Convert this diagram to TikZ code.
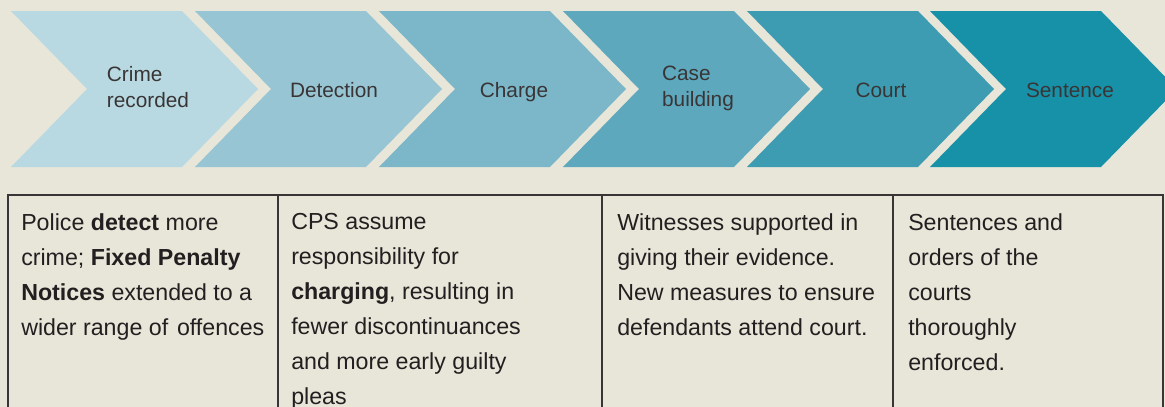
\documentclass[tikz,border=0pt]{standalone}
\usepackage{fontspec}
\setmainfont{Liberation Sans}
\usepackage{tikz}

\definecolor{paper}{HTML}{E8E6D9}
\definecolor{stageA}{HTML}{B8D9E2}
\definecolor{stageB}{HTML}{98C5D3}
\definecolor{stageC}{HTML}{7CB7C9}
\definecolor{stageD}{HTML}{5DA8BD}
\definecolor{stageE}{HTML}{3E9CB2}
\definecolor{stageF}{HTML}{1691A8}
\definecolor{ink}{HTML}{231F20}

\begin{document}
\begin{tikzpicture}[x=0.75pt, y=-0.75pt,
  chevlabel/.style={inner sep=0pt, align=left, text=ink!90,
    font=\fontsize{15.6}{19.5}\selectfont},
  celltext/.style={inner sep=0pt, anchor=north west, align=left, text=ink,
    font=\fontsize{17.4}{26.25}\selectfont},
  rule/.style={line width=1.5pt, draw=ink!90}]
  \useasboundingbox (0,0) rectangle (1165,407);
  \fill[paper] (0,0) rectangle (1165,407);
  \clip (0,0) rectangle (1165,407);
  % Chevrons
  \fill[stageA] (11,11) -- (182,11) -- (258,89) -- (182,167) -- (11,167) -- (87,89) -- cycle;
  \fill[stageB] (195,11) -- (366,11) -- (442,89) -- (366,167) -- (195,167) -- (271,89) -- cycle;
  \fill[stageC] (379,11) -- (550,11) -- (626,89) -- (550,167) -- (379,167) -- (455,89) -- cycle;
  \fill[stageD] (563,11) -- (734,11) -- (810,89) -- (734,167) -- (563,167) -- (639,89) -- cycle;
  \fill[stageE] (747,11) -- (918,11) -- (994,89) -- (918,167) -- (747,167) -- (823,89) -- cycle;
  \fill[stageF] (930,11) -- (1101,11) -- (1177,89) -- (1101,167) -- (930,167) -- (1006,89) -- cycle;
  % Stage names
  \node[chevlabel, anchor=north] (crime) at (148,66) {Crime\\recorded};
  \node[chevlabel, anchor=base] (detection) at (334,97) {Detection};
  \node[chevlabel, anchor=base] (charge) at (514,97) {Charge};
  \node[chevlabel, anchor=north] (casebuild) at (698,66) {Case\\building};
  \node[chevlabel, anchor=base] (court) at (881,97) {Court};
  \node[chevlabel, anchor=base] (sentence) at (1070,97) {Sentence};
  % Table
  \draw[rule] (8,430) -- (8,194.5) -- (1163,194.5) -- (1163,430);
  \draw[rule] (278,194.5) -- (278,430);
  \draw[rule] (602,194.5) -- (602,430);
  \draw[rule] (893,194.5) -- (893,430);
  \node[celltext] (police) at (21,213)
    {Police \textbf{detect} more\\crime; \textbf{Fixed Penalty}\\\textbf{Notices} extended to a\\wider range of\hspace{0.1em} offences};
  \node[celltext] (cps) at (291,213)
    {CPS assume\\responsibility for\\\textbf{charging}, resulting in\\fewer discontinuances\\and more early guilty\\pleas};
  \node[celltext] (witness) at (617,213)
    {Witnesses supported in\\giving their evidence.\\New measures to ensure\\defendants attend court.};
  \node[celltext] (enforce) at (908,213)
    {Sentences and\\orders of the\\courts\\thoroughly\\enforced.};
\end{tikzpicture}
\end{document}
